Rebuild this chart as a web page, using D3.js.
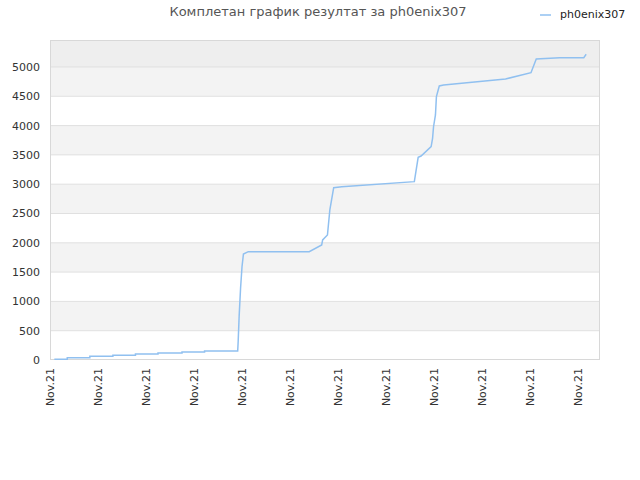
<!DOCTYPE html>
<html><head><meta charset="utf-8">
<script src="https://cdn.jsdelivr.net/npm/d3@7"></script>
<style>body{margin:0;background:#fff}svg{font-family:"DejaVu Sans",sans-serif}</style>
</head><body><div id="chart"></div>
<script>
const title = 'Комплетан график резултат за ph0enix307'
const seriesName = 'ph0enix307'
const xTickLabels = ['Nov.21','Nov.21','Nov.21','Nov.21','Nov.21','Nov.21','Nov.21','Nov.21','Nov.21','Nov.21','Nov.21','Nov.21']
// position in tick units, score
const xs = [0.09,0.36,0.36,0.83,0.83,1.31,1.31,1.78,1.78,2.25,2.25,2.75,2.75,3.22,3.22,3.69,3.69,3.91,3.92,3.94,3.97,4.00,4.03,4.13,5.40,5.66,5.68,5.78,5.83,5.91,6.08,7.59,7.67,7.73,7.94,7.97,7.99,8.03,8.05,8.11,8.20,9.49,10.02,10.13,10.62,11.12,11.17]
const ys = [12,12,40,40,63,63,80,80,102,102,119,119,137,137,154,154,154,154,312,740,1223,1592,1809,1849,1849,1963,2048,2133,2560,2941,2958,3043,3459,3480,3640,3783,3980,4181,4494,4676,4693,4795,4903,5137,5159,5159,5217]

const W = 640, H = 480
const m = { l: 50, r: 600, t: 40, b: 360 }
const svg = d3.select('#chart').append('svg').attr('width', W).attr('height', H)

const x = d3.scaleLinear().domain([0, 11.458]).range([m.l, m.r])
const y = d3.scaleLinear().domain([0, 5460]).range([m.b, m.t])

// bands
const bands = d3.range(0, 5500, 500)
svg.append('g').selectAll('rect').data(bands).enter().append('rect')
  .attr('x', m.l).attr('width', m.r - m.l)
  .attr('y', d => y(Math.min(d + 500, 5460)))
  .attr('height', d => y(d) - y(Math.min(d + 500, 5460)))
  .attr('fill', d => d >= 5000 ? '#eeeeee' : (d / 500) % 2 ? '#f3f3f3' : '#ffffff')
svg.append('g').selectAll('line').data(d3.range(500, 5500, 500)).enter().append('line')
  .attr('x1', m.l).attr('x2', m.r).attr('y1', d => y(d)).attr('y2', d => y(d))
  .attr('stroke', '#e0e0e0')
svg.append('rect').attr('x', m.l + 0.5).attr('y', m.t + 0.5).attr('width', m.r - m.l - 1).attr('height', m.b - m.t - 1)
  .attr('fill', 'none').attr('stroke', '#d8d8d8')

// y axis
svg.append('g').selectAll('text').data(d3.range(0, 5500, 500)).enter().append('text')
  .attr('x', m.l - 10).attr('y', d => y(d) + 4).attr('text-anchor', 'end')
  .attr('font-size', 11).attr('fill', '#333').text(d => d)

// x axis
svg.append('g').selectAll('text').data(xTickLabels).enter().append('text')
  .attr('transform', (d, i) => `translate(${x(i) + 4},${m.b + 8}) rotate(-90)`)
  .attr('text-anchor', 'end').attr('font-size', 11).attr('fill', '#333').text(d => d)

// line
const pts = xs.map((v, i) => [v, ys[i]])
svg.append('path').datum(pts)
  .attr('d', d3.line().x(d => x(d[0])).y(d => y(d[1])))
  .attr('fill', 'none').attr('stroke', '#90c0f0').attr('stroke-width', 1.5)

// title & legend
svg.append('text').attr('x', 318).attr('y', 16).attr('text-anchor', 'middle')
  .attr('font-size', 13).attr('fill', '#555').text(title)
svg.append('line').attr('x1', 540).attr('x2', 551).attr('y1', 15).attr('y2', 15)
  .attr('stroke', '#90c0f0').attr('stroke-width', 1.5)
svg.append('text').attr('x', 560).attr('y', 18).attr('font-size', 11).attr('fill', '#222').text(seriesName)
</script></body></html>
